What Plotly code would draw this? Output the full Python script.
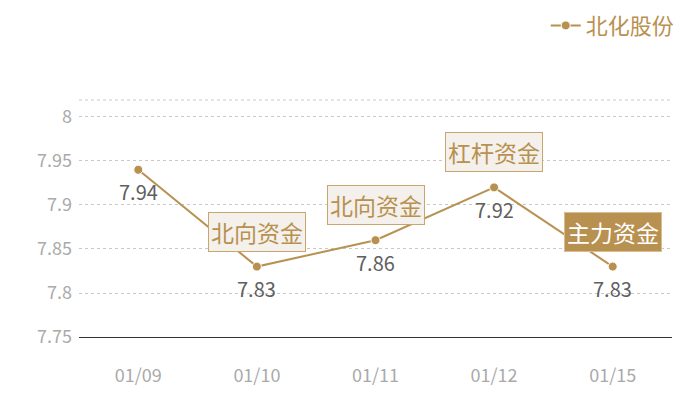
import plotly.graph_objects as go

# data
dates = ["01/09", "01/10", "01/11", "01/12", "01/15"]
prices = [7.94, 7.83, 7.86, 7.92, 7.83]
tags = ["", "北向资金", "北向资金", "杠杆资金", "主力资金"]
tagFilled = [False, False, False, False, True]
seriesName = "北化股份"
yTicks = [7.75, 7.8, 7.85, 7.9, 7.95, 8]

gold = "#b89150"
font = "Noto Sans CJK SC"

fig = go.Figure()
fig.add_trace(go.Scatter(
    x=dates, y=prices, name=seriesName,
    mode="lines+markers",
    line=dict(color=gold, width=2),
    marker=dict(color=gold, size=9, line=dict(color="white", width=1)),
    hoverinfo="skip",
))

# value labels under the points
for d, p in zip(dates, prices):
    fig.add_annotation(
        x=d, y=p, text="{:.2f}".format(p), showarrow=False, yshift=-22,
        font=dict(family=font, size=20, color="#606060"),
    )

# tag boxes above the points
for d, p, t, filled in zip(dates, prices, tags, tagFilled):
    if not t:
        continue
    fig.add_annotation(
        x=d, y=p, text=t, showarrow=False, yshift=35,
        font=dict(family=font, size=23, color="#ffffff" if filled else gold),
        bgcolor=gold if filled else "#f4f0eb",
        bordercolor="#d7bd92" if filled else "#c9a66e",
        borderwidth=1, borderpad=2,
    )

# dotted top border of the plot area
fig.add_shape(type="line", xref="paper", yref="paper", x0=0, x1=1, y0=1, y1=1,
              line=dict(color="#c8c8c8", width=1, dash="dot"))

# page body keeps an 8px margin, so the figure is 8px smaller
fig.update_layout(
    width=692, height=392,
    margin=dict(l=71, r=28, t=92, b=63),
    paper_bgcolor="white", plot_bgcolor="white",
    font=dict(family=font),
    showlegend=True,
    legend=dict(orientation="h", x=1.013, xanchor="right",
                y=0.955, yref="container", yanchor="middle",
                font=dict(family=font, size=22, color=gold),
                itemwidth=30, bgcolor="rgba(0,0,0,0)"),
)
fig.update_xaxes(
    type="category", showgrid=False, zeroline=False,
    showline=True, linecolor="#333333", linewidth=1,
    ticks="", ticklabelstandoff=22, automargin=False,
    tickfont=dict(family=font, size=18, color="#aaaaaa"),
    range=[-0.5, len(dates) - 0.5],
)
fig.update_yaxes(
    range=[7.75, 8.0193], tickvals=yTicks, ticktext=[str(v) for v in yTicks],
    showgrid=True, gridcolor="#c8c8c8", griddash="dot", gridwidth=1,
    zeroline=False, showline=False, ticks="", ticklabelstandoff=6, automargin=False,
    tickfont=dict(family=font, size=18, color="#aaaaaa"),
)

fig.write_html("out.html")
